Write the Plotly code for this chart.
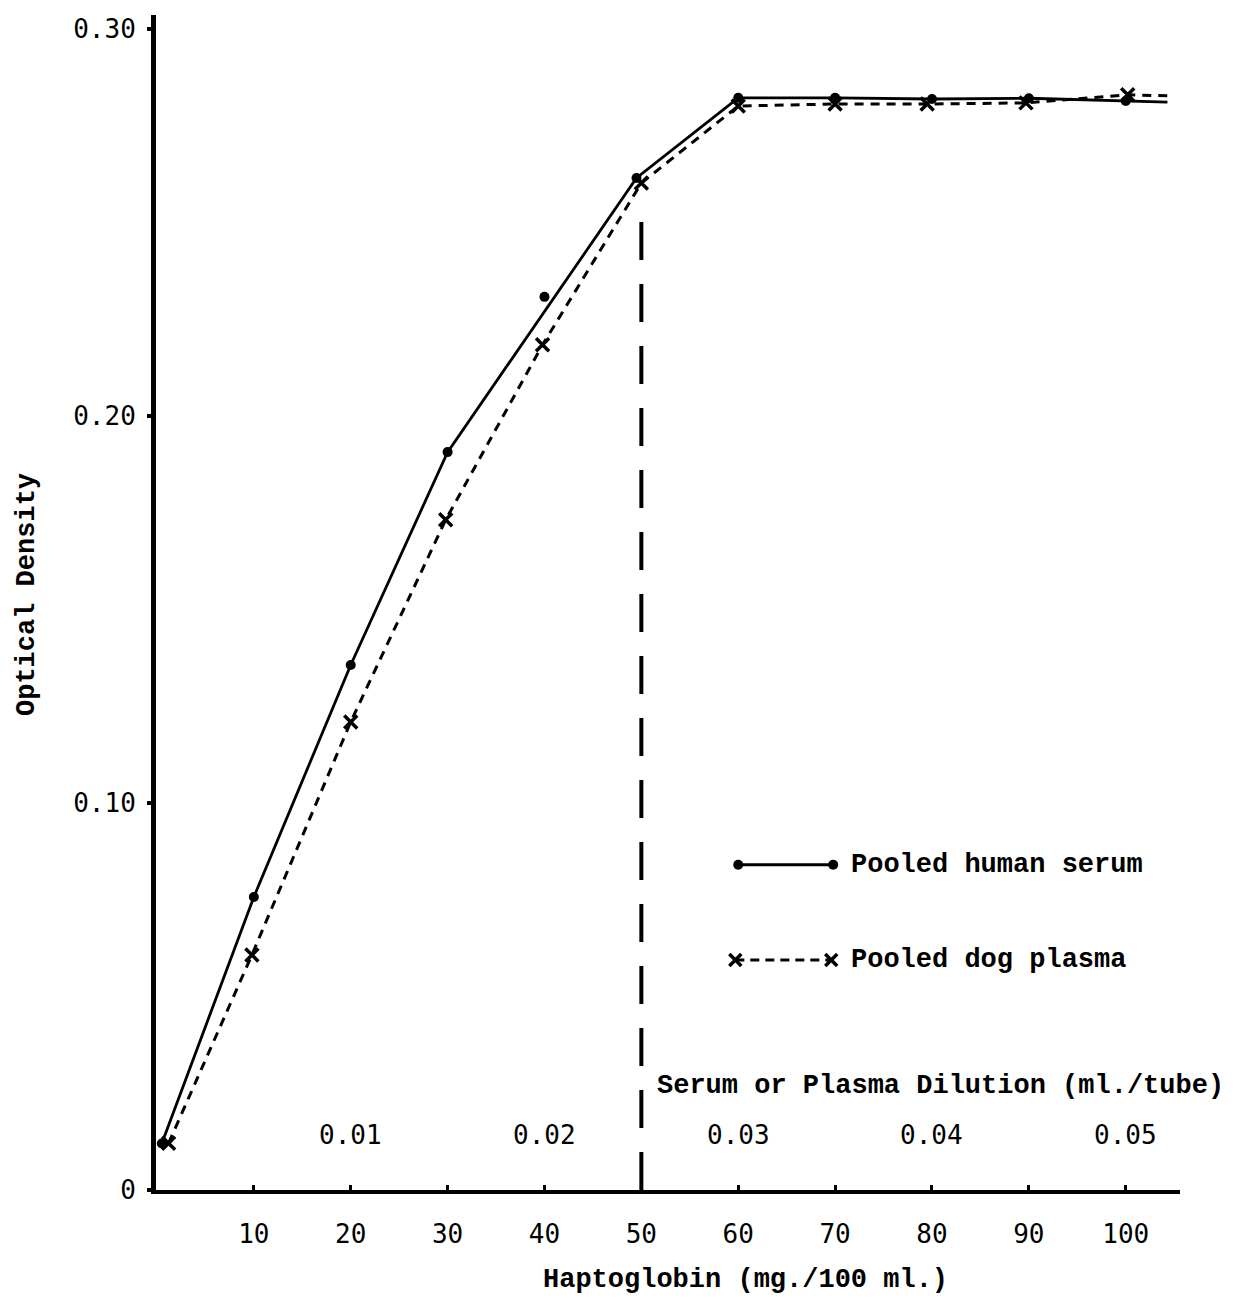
import plotly.graph_objects as go

# ---- data ----
human_x = [0.5, 10, 20, 30, 40, 49.5, 60, 70, 80, 90, 100]
human_y = [0.012, 0.0757, 0.1356, 0.1906, 0.2307, 0.2614, 0.2821, 0.2821, 0.2818, 0.2820, 0.2813]
# fitted line (skips the 40 point, extends past 100)
human_line_x = [0.5, 10, 20, 30, 49.5, 60, 70, 80, 90, 100, 104.3]
human_line_y = [0.012, 0.0757, 0.1356, 0.1906, 0.2614, 0.2821, 0.2821, 0.2818, 0.2820, 0.2813, 0.2810]

dog_x = [1.2, 9.8, 20, 29.8, 39.8, 50, 60, 70, 79.5, 89.7, 100.2]
dog_y = [0.0121, 0.0607, 0.1209, 0.1731, 0.2183, 0.2601, 0.2800, 0.2805, 0.2805, 0.2808, 0.2829]
dog_line_x = dog_x + [104.6]
dog_line_y = dog_y + [0.2826]

x_ticks = [10, 20, 30, 40, 50, 60, 70, 80, 90, 100]
x_tick_labels = ["10", "20", "30", "40", "50", "60", "70", "80", "90", "100"]
y_ticks = [0, 0.10, 0.20, 0.30]
y_tick_labels = ["0", "0.10", "0.20", "0.30"]

dilution_x = [20, 40, 60, 80, 100]
dilution_labels = ["0.01", "0.02", "0.03", "0.04", "0.05"]

cutoff_x = 50
cutoff_top = 0.256

TXT = "Liberation Mono"
NUM = "DejaVu Sans Mono"

fig = go.Figure()

# human serum
fig.add_trace(go.Scatter(x=human_line_x, y=human_line_y, mode="lines",
                         line=dict(color="black", width=2.8), showlegend=False, hoverinfo="skip"))
fig.add_trace(go.Scatter(x=human_x, y=human_y, mode="markers",
                         marker=dict(color="black", size=10, symbol="circle"), showlegend=False))
# dog plasma
fig.add_trace(go.Scatter(x=dog_line_x, y=dog_line_y, mode="lines",
                         line=dict(color="black", width=3, dash="9px,7px"), showlegend=False, hoverinfo="skip"))
fig.add_trace(go.Scatter(x=dog_x, y=dog_y, mode="markers",
                         marker=dict(color="black", size=13, symbol="x-thin",
                                     line=dict(color="black", width=3.5)), showlegend=False))
# vertical cutoff
fig.add_trace(go.Scatter(x=[cutoff_x, cutoff_x], y=[0, cutoff_top], mode="lines",
                         line=dict(color="black", width=4, dash="38px,24px"), showlegend=False, hoverinfo="skip"))

# legend samples (layout positions in data units)
leg_x0, leg_x1 = 60.0, 69.8
leg_y_h, leg_y_d = 0.084, 0.0594
fig.add_trace(go.Scatter(x=[leg_x0, leg_x1], y=[leg_y_h, leg_y_h], mode="lines+markers",
                         line=dict(color="black", width=3), marker=dict(size=10, color="black"),
                         showlegend=False, hoverinfo="skip"))
fig.add_trace(go.Scatter(x=[leg_x0 - 0.3, leg_x1 - 0.2], y=[leg_y_d, leg_y_d], mode="lines+markers",
                         line=dict(color="black", width=3, dash="9px,6px"),
                         marker=dict(size=12, symbol="x-thin", line=dict(color="black", width=3.5)),
                         showlegend=False, hoverinfo="skip"))

tf = dict(family=TXT, size=27, color="black", weight="bold")
nf = dict(family=NUM, size=26, color="black")

ann = []
ann.append(dict(x=71.4, y=leg_y_h, text="Pooled human serum", xanchor="left", yanchor="middle",
                showarrow=False, font=tf))
ann.append(dict(x=71.4, y=leg_y_d, text="Pooled dog plasma", xanchor="left", yanchor="middle",
                showarrow=False, font=tf))
ann.append(dict(x=51.4, y=0.0268, text="Serum or Plasma Dilution (ml./tube)", xanchor="left",
                yanchor="middle", showarrow=False, font=tf))
for xv, lab in zip(dilution_x, dilution_labels):
    ann.append(dict(x=xv, y=0.0142, text=lab, xanchor="center", yanchor="middle", showarrow=False,
                    font=nf))
ann.append(dict(x=745, y=1280, xref="paper", yref="paper", text="Haptoglobin (mg./100 ml.)",
                showarrow=False, font=tf))
ann.append(dict(x=27, y=595, xref="paper", yref="paper", text="Optical Density", textangle=-90,
                showarrow=False, font=tf))

# convert the pixel-placed annotations to paper coordinates
L, R, T, B = 156, 56, 15, 110
W, H = 1236, 1300
for a in ann:
    if a.get("xref") == "paper":
        px, py = a["x"], a["y"]
        a["x"] = (px - L) / (W - L - R)
        a["y"] = (H - B - py) / (H - T - B)
        a["xanchor"] = "center"
        a["yanchor"] = "middle"

fig.update_layout(
    width=W, height=H,
    margin=dict(l=L, r=R, t=T, b=B),
    paper_bgcolor="white", plot_bgcolor="white",
    annotations=ann,
    showlegend=False,
)
fig.update_xaxes(range=[-0.1, 105.6], showgrid=False, zeroline=False,
                 showline=True, linecolor="black", linewidth=4,
                 tickvals=x_ticks, ticktext=x_tick_labels,
                 ticks="inside", ticklen=5, tickwidth=3, tickcolor="black",
                 ticklabelstandoff=18,
                 tickfont=nf)
fig.update_yaxes(range=[0, 0.3035], showgrid=False, zeroline=False,
                 showline=True, linecolor="black", linewidth=5,
                 tickvals=y_ticks, ticktext=y_tick_labels,
                 ticks="outside", ticklen=4, tickwidth=4, tickcolor="black",
                 ticklabelstandoff=6,
                 tickfont=nf)

fig.write_html("out.html")
